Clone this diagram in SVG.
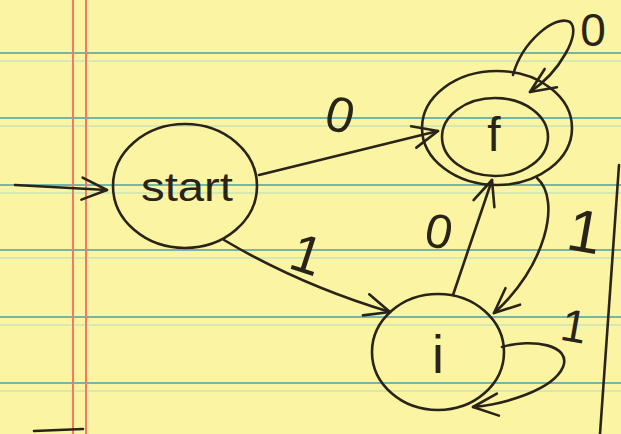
<svg xmlns="http://www.w3.org/2000/svg" width="621" height="434" viewBox="0 0 621 434">
<style>
.rule{stroke:#74b6a8;stroke-width:2}
.rule2{stroke:#c9e3b4;stroke-width:1.5}
.margin{stroke:#f27a62;stroke-width:2}
.pen{fill:none;stroke:#2a2418;stroke-width:2.6;stroke-linecap:round;stroke-linejoin:round}
.lbl{font-family:"Liberation Sans","DejaVu Sans",sans-serif;fill:#2a2418;text-anchor:middle}
</style>
<defs>
<marker id="arr" viewBox="-28 -16 32 32" markerWidth="32" markerHeight="32" refX="0" refY="0" orient="auto" markerUnits="userSpaceOnUse">
<path d="M-25,-11 L0,0 L-25,11" fill="none" stroke="#2a2418" stroke-width="2.6" stroke-linecap="round" stroke-linejoin="round"/>
</marker>
</defs>
<rect width="621" height="434" fill="#fbf5a3"/>
<g id="paper">
<line class="rule2" x1="0" y1="61" x2="621" y2="61"/>
<line class="rule2" x1="0" y1="126" x2="621" y2="126"/>
<line class="rule2" x1="0" y1="193" x2="621" y2="193"/>
<line class="rule2" x1="0" y1="258" x2="621" y2="258"/>
<line class="rule2" x1="0" y1="325" x2="621" y2="325"/>
<line class="rule2" x1="0" y1="391" x2="621" y2="391"/>
<line class="rule" x1="0" y1="53" x2="621" y2="53"/>
<line class="rule" x1="0" y1="118" x2="621" y2="118"/>
<line class="rule" x1="0" y1="185" x2="621" y2="185"/>
<line class="rule" x1="0" y1="250" x2="621" y2="250"/>
<line class="rule" x1="0" y1="317" x2="621" y2="317"/>
<line class="rule" x1="0" y1="383" x2="621" y2="383"/>
<line class="margin" x1="73" y1="0" x2="73" y2="434"/>
<line class="margin" x1="86" y1="0" x2="86" y2="434"/>
<path class="pen" d="M619,165 L600,434"/>
<path class="pen" d="M34,431 L83,429"/>
</g>
<g id="connectors">
<path class="pen" d="M15,185 L107,190" marker-end="url(#arr)"/>
<path class="pen" d="M259,175 L438,131" marker-end="url(#arr)"/>
<path class="pen" d="M224,240 Q300,285 390,312" marker-end="url(#arr)"/>
<path class="pen" d="M453,295 L492,180" marker-end="url(#arr)"/>
<path class="pen" d="M537,178 C562,200 545,268 494,313" marker-end="url(#arr)"/>
<path class="pen" d="M513,75 C522,42 555,14 570,22 C582,32 560,72 530,92" marker-end="url(#arr)"/>
<path class="pen" d="M502,347 C532,338 572,345 563,367 C553,390 505,404 473,407" marker-end="url(#arr)"/>
<text class="lbl" x="340" y="132" font-size="50" transform="rotate(15 340 115)">0</text>
<text class="lbl" x="307" y="273" font-size="54" transform="rotate(18 307 254)">1</text>
<text class="lbl" x="439" y="248" font-size="48" transform="rotate(12 439 231)">0</text>
<text class="lbl" x="585" y="252" font-size="60" transform="rotate(10 585 230)">1</text>
<text class="lbl" x="574" y="342" font-size="46" transform="rotate(10 574 327)">1</text>
<text class="lbl" x="593" y="46" font-size="46">0</text>
</g>
<g id="node-start">
<ellipse class="pen" cx="185" cy="186" rx="72" ry="62"/>
<text class="lbl" x="187" y="201" font-size="40" textLength="92" lengthAdjust="spacingAndGlyphs">start</text>
</g>
<g id="node-f">
<ellipse class="pen" cx="497" cy="128" rx="75" ry="57"/>
<ellipse class="pen" cx="495" cy="137" rx="53" ry="39"/>
<text class="lbl" x="494" y="151" font-size="48">f</text>
</g>
<g id="node-i">
<ellipse class="pen" cx="438" cy="352" rx="66" ry="58"/>
<text class="lbl" x="438" y="373" font-size="54">i</text>
</g>
</svg>
